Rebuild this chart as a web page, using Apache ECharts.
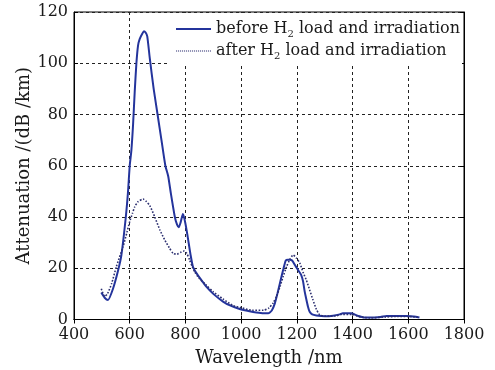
<!DOCTYPE html>
<html>
<head>
<meta charset="utf-8">
<script src="https://cdn.jsdelivr.net/npm/echarts@6/dist/echarts.min.js"></script>
<style>html,body{margin:0;padding:0;background:#fff}#c{width:495px;height:370px}</style>
</head>
<body>
<div id="c"></div>
<script>
// Wavelength (nm) and attenuation (dB/km)
const beforeWavelength = [498,510,522,540,558,570,586,594,600,606,612,618,624,630,636,645,651,657,663,672,686,700,714,728,738,748,762,770,776,783,791,797,804,810,818,827,840,860,875,900,935,960,995,1030,1055,1080,1097,1110,1121,1130,1139,1150,1160,1168,1175,1183,1193,1205,1215,1222,1228,1232,1240,1246,1255,1270,1300,1330,1354,1365,1396,1420,1440,1462,1500,1522,1560,1594,1620,1640];
const beforeAttenuation = [10.5,8.5,7.6,12,19,25,40,50,60,66,76,89,100,107,109.5,111.5,112.5,112,110.5,102,90,80,70,60,56,49,40,37,36,38,41.2,39,35,31,25.5,20.6,18,15,12.8,10,7,5.5,4.1,3.2,2.7,2.4,2.4,3.5,6.3,10,14.1,19,23,23.3,23.3,23,21.3,19.2,17.5,15,11,8.9,5,3,2,1.6,1.3,1.5,2,2.4,2.4,1.4,0.8,0.8,1.0,1.4,1.4,1.4,1.2,0.8];
const afterWavelength = [498,510,520,535,552,576,590,600,610,618,630,648,660,672,690,708,726,742,756,770,785,795,805,815,825,833,850,875,900,935,970,1000,1040,1080,1100,1115,1127,1140,1150,1163,1175,1187,1198,1211,1222,1234,1246,1258,1270,1282,1300,1340,1360,1400,1420,1460,1520,1560,1600,1640];
const afterAttenuation = [12,9,10,14,20.6,28.4,34,38.2,41.5,44,46,47,46,44.5,40,35,31,28,25.8,25.5,26.3,26.7,25.8,23.2,20.5,18.7,16,13.4,10.8,8,5.5,4.6,3.6,3.6,4.5,6.5,9,13,16.5,20.6,23.5,25.2,24,21.9,18.5,15.4,11.5,7.6,4,1.8,1.3,1.4,2,2,1.2,0.6,1.0,1.2,1.2,0.8];
const xTicks = [400,600,800,1000,1200,1400,1600,1800];
const yTicks = [0,20,40,60,80,100,120];
const seriesNames = ['before H2 load and irradiation','after H2 load and irradiation'];

const FONT = 'DejaVu Serif';
const TXT = '#1a1a1a';
const SOLID = '#24349c';
const DOT = '#2c2f70';
const pairs = (xs, ys) => xs.map((x, i) => [x, ys[i]]);

// legend icons: a thin bar and a row of small dots
let dotPath = 'path://';
for (let i = 0; i < 18; i++) dotPath += 'M' + (i * 2) + ',0h1.1v1h-1.1z';

const chart = echarts.init(document.getElementById('c'), null, {renderer: 'canvas'});
const baseX = {
  type: 'value', min: xTicks[0], max: xTicks[xTicks.length-1], interval: xTicks[1]-xTicks[0],
  axisLine: {show: true, lineStyle: {color: '#000', width: 1}},
  axisTick: {show: true, inside: true, length: 4, lineStyle: {color: '#000'}},
  splitLine: {show: false}
};
const baseY = {
  type: 'value', min: yTicks[0], max: yTicks[yTicks.length-1], interval: yTicks[1]-yTicks[0],
  axisLine: {show: true, lineStyle: {color: '#000', width: 1}},
  axisTick: {show: true, inside: true, length: 4, lineStyle: {color: '#000'}},
  splitLine: {show: false}
};
const legendFmt = (name) => {
  const m = name.match(/^(.*?)H2(.*)$/);
  return '{a|' + m[1] + 'H}{s|2}{a|' + m[2] + '}';
};

chart.setOption({
  animation: false,
  backgroundColor: '#fff',
  grid: {left: 74, right: 31, top: 12, bottom: 50.5, show: true, borderColor: '#000', borderWidth: 1, backgroundColor: '#fff', outerBoundsMode: 'none', containLabel: false},
  legend: {
    data: [
      {name: seriesNames[0], icon: 'rect', itemStyle: {color: SOLID}},
      {name: seriesNames[1], icon: dotPath, itemStyle: {color: DOT}}
    ],
    right: 33, top: 13, orient: 'vertical', itemGap: 4,
    itemWidth: 35, itemHeight: 2,
    backgroundColor: '#fff', padding: [8, 2, 3, 6],
    formatter: legendFmt,
    textStyle: {
      fontFamily: FONT, fontSize: 16, color: TXT,
      rich: {
        a: {fontFamily: FONT, fontSize: 16, color: TXT},
        s: {fontFamily: FONT, fontSize: 10, color: TXT, padding: [10, 0, 0, 0]}
      }
    }
  },
  xAxis: [
    Object.assign({}, baseX, {
      position: 'bottom',
      name: 'Wavelength /nm', nameLocation: 'middle', nameGap: 30, nameMoveOverlap: false,
      nameTextStyle: {fontFamily: FONT, fontSize: 18, color: TXT},
      axisLabel: {fontFamily: FONT, fontSize: 16, color: TXT, margin: 7, formatter: (v) => String(v)},
      splitLine: {show: true, lineStyle: {color: '#222', type: [3, 3], width: 1}}
    }),
    Object.assign({}, baseX, {position: 'top', axisLabel: {show: false}})
  ],
  yAxis: [
    Object.assign({}, baseY, {
      position: 'left',
      name: 'Attenuation /(dB /km)', nameLocation: 'middle', nameGap: 41, nameMoveOverlap: false,
      nameTextStyle: {fontFamily: FONT, fontSize: 18, color: TXT},
      axisLabel: {fontFamily: FONT, fontSize: 16, color: TXT, margin: 6, formatter: (v) => String(v)},
      splitLine: {show: true, lineStyle: {color: '#222', type: [3, 3], width: 1}}
    }),
    Object.assign({}, baseY, {position: 'right', axisLabel: {show: false}})
  ],
  series: [
    {
      name: seriesNames[0], type: 'line', data: pairs(beforeWavelength, beforeAttenuation),
      showSymbol: false, symbol: 'none', smooth: 0.2,
      lineStyle: {color: SOLID, width: 2, type: 'solid'},
      itemStyle: {color: SOLID}
    },
    {
      name: seriesNames[1], type: 'line', data: pairs(afterWavelength, afterAttenuation),
      showSymbol: false, symbol: 'none', smooth: 0.2,
      lineStyle: {color: DOT, width: 1.6, type: [1.6, 1.6]},
      itemStyle: {color: DOT}
    }
  ]
});
</script>
</body>
</html>
